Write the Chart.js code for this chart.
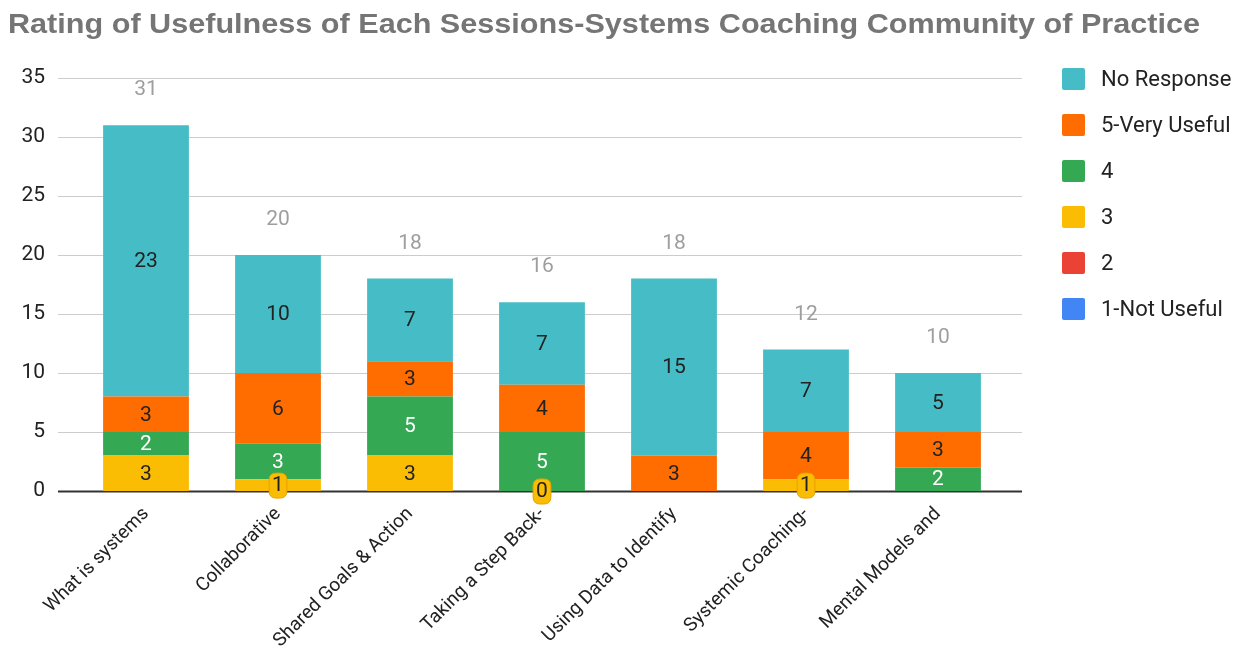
<!DOCTYPE html>
<html>
<head>
<meta charset="utf-8">
<script src="https://cdn.jsdelivr.net/npm/chart.js@4.4.1/dist/chart.umd.min.js"></script>
<style>
  html, body { margin: 0; padding: 0; background: #fff; }
  #wrap { width: 1251px; height: 647px; position: relative; }
</style>
</head>
<body>
<div id="wrap"><canvas id="c"></canvas></div>
<script>
const titleText = 'Rating of Usefulness of Each Sessions-Systems Coaching Community of Practice';
const categories = ['What is systems', 'Collaborative', 'Shared Goals & Action', 'Taking a Step Back-', 'Using Data to Identify', 'Systemic Coaching-', 'Mental Models and'];
const seriesNames = ['1-Not Useful', '2', '3', '4', '5-Very Useful', 'No Response'];
const notUseful = [null, null, null, null, null, null, null];
const rating2 = [null, null, null, null, null, null, null];
const rating3 = [3, 1, 3, 0, null, 1, null];
const rating4 = [2, 3, 5, 5, null, null, 2];
const veryUseful = [3, 6, 3, 4, 3, 4, 3];
const noResponse = [23, 10, 7, 7, 15, 7, 5];
const yMax = 35;
const yStep = 5;

const colors = ['#4285F4', '#EA4335', '#FBBC04', '#34A853', '#FF6D01', '#46BDC6'];
const labelColors = ['#222', '#222', '#222', '#fff', '#222', '#222'];
const seriesData = [notUseful, rating2, rating3, rating4, veryUseful, noResponse];
const totals = categories.map((_, i) => seriesData.reduce((s, arr) => s + (arr[i] || 0), 0));

const FONT = 'Roboto, "Noto Sans", sans-serif';

function roundRect(ctx, x, y, w, h, r) {
  ctx.beginPath();
  ctx.moveTo(x + r, y);
  ctx.lineTo(x + w - r, y);
  ctx.quadraticCurveTo(x + w, y, x + w, y + r);
  ctx.lineTo(x + w, y + h - r);
  ctx.quadraticCurveTo(x + w, y + h, x + w - r, y + h);
  ctx.lineTo(x + r, y + h);
  ctx.quadraticCurveTo(x, y + h, x, y + h - r);
  ctx.lineTo(x, y + r);
  ctx.quadraticCurveTo(x, y, x + r, y);
  ctx.closePath();
}

const titlePlugin = {
  id: 'wideTitle',
  afterDraw(chart) {
    const { ctx } = chart;
    ctx.save();
    ctx.font = 'bold 28px "Liberation Sans", Arial, sans-serif';
    ctx.fillStyle = '#757575';
    ctx.textBaseline = 'alphabetic';
    ctx.textAlign = 'left';
    const w = ctx.measureText(titleText).width;
    const sx = 1192 / w;
    ctx.translate(8, 33);
    ctx.scale(sx, 1);
    ctx.fillText(titleText, 0, 0);
    ctx.restore();
  }
};

const gridPlugin = {
  id: 'extGrid',
  beforeDatasetsDraw(chart) {
    const { ctx, chartArea, scales } = chart;
    const y = scales.y;
    ctx.save();
    y.ticks.forEach(t => {
      const py = Math.round(y.getPixelForValue(t.value)) + 0.5;
      ctx.beginPath();
      ctx.strokeStyle = t.value === 0 ? '#333' : '#cccccc';
      ctx.lineWidth = t.value === 0 ? 2 : 1;
      ctx.moveTo(chartArea.left - 22, py);
      ctx.lineTo(chartArea.right + 18, py);
      ctx.stroke();
    });
    ctx.restore();
  }
};

const labelPlugin = {
  id: 'segLabels',
  afterDatasetsDraw(chart) {
    const { ctx, scales } = chart;
    ctx.save();
    ctx.font = '21px ' + FONT;
    ctx.textAlign = 'center';
    ctx.textBaseline = 'middle';
    chart.data.datasets.forEach((ds, di) => {
      const meta = chart.getDatasetMeta(di);
      meta.data.forEach((bar, i) => {
        const v = ds.data[i];
        if (v === null || v === undefined) return;
        const cy = (bar.y + bar.base) / 2;
        const txt = String(v);
        if (v <= 1) {
          const w = ctx.measureText(txt).width + 6;
          ctx.fillStyle = colors[di];
          ctx.strokeStyle = '#E8A200';
          ctx.lineWidth = 1;
          roundRect(ctx, bar.x - w / 2, cy - 12, w, 25, 7);
          ctx.fill();
          ctx.stroke();
          ctx.fillStyle = '#222';
          ctx.fillText(txt, bar.x, cy + 1);
        } else {
          ctx.fillStyle = labelColors[di];
          ctx.fillText(txt, bar.x, cy + 1);
        }
      });
    });
    ctx.fillStyle = '#9e9e9e';
    const meta0 = chart.getDatasetMeta(0);
    totals.forEach((t, i) => {
      const x = meta0.data[i].x;
      const py = scales.y.getPixelForValue(t) - 35;
      ctx.fillText(String(t), x, py);
    });
    ctx.restore();
  }
};

const legendPlugin = {
  id: 'sideLegend',
  afterDraw(chart) {
    const { ctx } = chart;
    ctx.save();
    ctx.font = '22px ' + FONT;
    ctx.textBaseline = 'middle';
    ctx.textAlign = 'left';
    const order = chart.data.datasets.map((d, i) => i).reverse();
    order.forEach((di, k) => {
      const cy = 79 + k * 46;
      ctx.fillStyle = colors[di];
      roundRect(ctx, 1062, cy - 11, 23, 22, 2);
      ctx.fill();
      ctx.fillStyle = '#222';
      ctx.fillText(chart.data.datasets[di].label, 1101, cy + 1);
    });
    ctx.restore();
  }
};

new Chart(document.getElementById('c'), {
  type: 'bar',
  data: {
    labels: categories,
    datasets: seriesData.map((arr, i) => ({
      label: seriesNames[i],
      data: arr,
      backgroundColor: colors[i],
      borderWidth: 0,
      barPercentage: 0.65,
      categoryPercentage: 1.0
    }))
  },
  options: {
    responsive: true,
    maintainAspectRatio: false,
    animation: false,
    layout: { padding: { left: 8, right: 247, top: 78, bottom: 0 } },
    plugins: {
      legend: { display: false },
      tooltip: { enabled: false },
      title: { display: false }
    },
    scales: {
      x: {
        stacked: true,
        grid: { display: false, drawTicks: false },
        border: { display: false },
        afterFit(scale) { scale.paddingLeft = 0; scale.paddingRight = 0; scale.height = 156; },
        ticks: {
          color: '#222',
          font: { family: FONT, size: 19 },
          minRotation: 45,
          maxRotation: 45,
          padding: 12,
          autoSkip: false
        }
      },
      y: {
        stacked: true,
        min: 0,
        max: yMax,
        grid: { display: false, drawTicks: false },
        border: { display: false },
        afterFit(scale) { scale.width = 72; },
        ticks: {
          stepSize: yStep,
          color: '#222',
          font: { family: FONT, size: 21 },
          padding: 35
        }
      }
    }
  },
  plugins: [gridPlugin, labelPlugin, legendPlugin, titlePlugin]
});
</script>
</body>
</html>
